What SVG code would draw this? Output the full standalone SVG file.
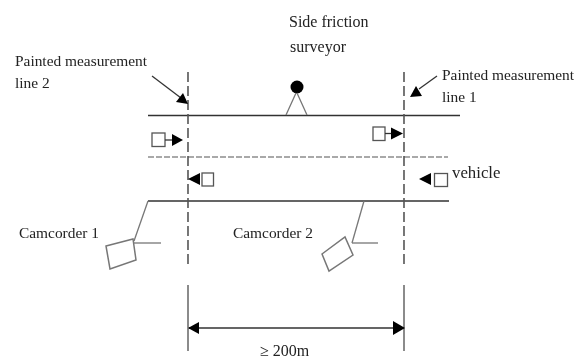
<svg xmlns="http://www.w3.org/2000/svg" width="579" height="358" viewBox="0 0 579 358">
<defs>
<filter id="b" x="0" y="0" width="579" height="358" filterUnits="userSpaceOnUse"><feGaussianBlur stdDeviation="0.55"/></filter>
</defs>
<style>
g{filter:url(#b)}
text{font-family:"Liberation Serif",serif;font-size:15.4px;fill:#222}
.l{stroke:#333;stroke-width:1.6;fill:none}
.d{stroke:#555;stroke-width:1.6;fill:none;stroke-dasharray:10 4}
.g{stroke:#777;stroke-width:1.3;fill:none}
.v{stroke:#555;stroke-width:1.3;fill:#fff}
.k{stroke:#333;stroke-width:1.3;fill:none}
.h{fill:#000}
</style>
<rect width="579" height="358" fill="#fff"/>
<g id="connectors">
<path class="l" d="M148 115.500H460"/>
<path class="d" style="stroke-width:1.100;stroke-dasharray:6 2" d="M148 157H448"/>
<path class="l" d="M148 201H449"/>
<path class="g" d="M148 201L134 241"/>
<path class="g" d="M134 243H161"/>
<path class="g" d="M364 201L352 243"/>
<path class="g" d="M352 243H378"/>
<path class="d" d="M188 72V264"/>
<path class="d" d="M404 72V264"/>
<path class="g" style="stroke-width:1.700" d="M188 285V351"/>
<path class="g" style="stroke-width:1.700" d="M404 285V351"/>
<path class="l" d="M189 328H403"/>
<path class="h" d="M188 328L199 322V334Z"/>
<path class="h" d="M405 328L393 321V335Z"/>
<path class="k" d="M152 76L181 98"/>
<path class="h" d="M188 104L176 102L183 93Z"/>
<path class="k" d="M437 76L419 89"/>
<path class="h" d="M410 97L416 86L422 96Z"/>
</g>
<g id="surveyor">
<circle cx="297" cy="87" r="6.500" fill="#000"/>
<path class="g" d="M296 93L286 115M297 93L307 115"/>
<text x="289" y="27" style="font-size:16px">Side friction</text>
<text x="290" y="52" style="font-size:16px">surveyor</text>
</g>
<g id="label-line-2"><text x="15" y="66">Painted measurement</text><text x="15" y="88">line 2</text></g>
<g id="label-line-1"><text x="442" y="80">Painted measurement</text><text x="442" y="102">line 1</text></g>
<g id="vehicle-1"><rect class="v" x="152" y="133" width="13" height="13.500"/><path class="k" d="M165 140H174"/><path class="h" d="M183 140L172 134V146Z"/></g>
<g id="vehicle-2"><rect class="v" x="373" y="127" width="12" height="13.500"/><path class="k" d="M385 133.500H393"/><path class="h" d="M403 133.500L391 127.500V139.500Z"/></g>
<g id="vehicle-3"><rect class="v" x="202" y="173" width="11.500" height="13"/><path class="h" d="M188 179L200 173V185Z"/></g>
<g id="vehicle-4"><rect class="v" x="434.500" y="173.500" width="13" height="13"/><path class="h" d="M419 179L431 173V185Z"/></g>
<g id="vehicle-label"><text x="452" y="178" style="font-size:16.800px">vehicle</text></g>
<g id="camcorder-1"><path class="g" style="stroke-width:1.500" d="M106 246L133 239L136 260L110 269Z"/><text x="19" y="238">Camcorder 1</text></g>
<g id="camcorder-2"><path class="g" style="stroke-width:1.500" d="M322 254L345 237L353 255L329 271Z"/><text x="233" y="238">Camcorder 2</text></g>
<g id="distance"><text x="260" y="356" style="font-size:16px">≥ 200m</text></g>
</svg>
